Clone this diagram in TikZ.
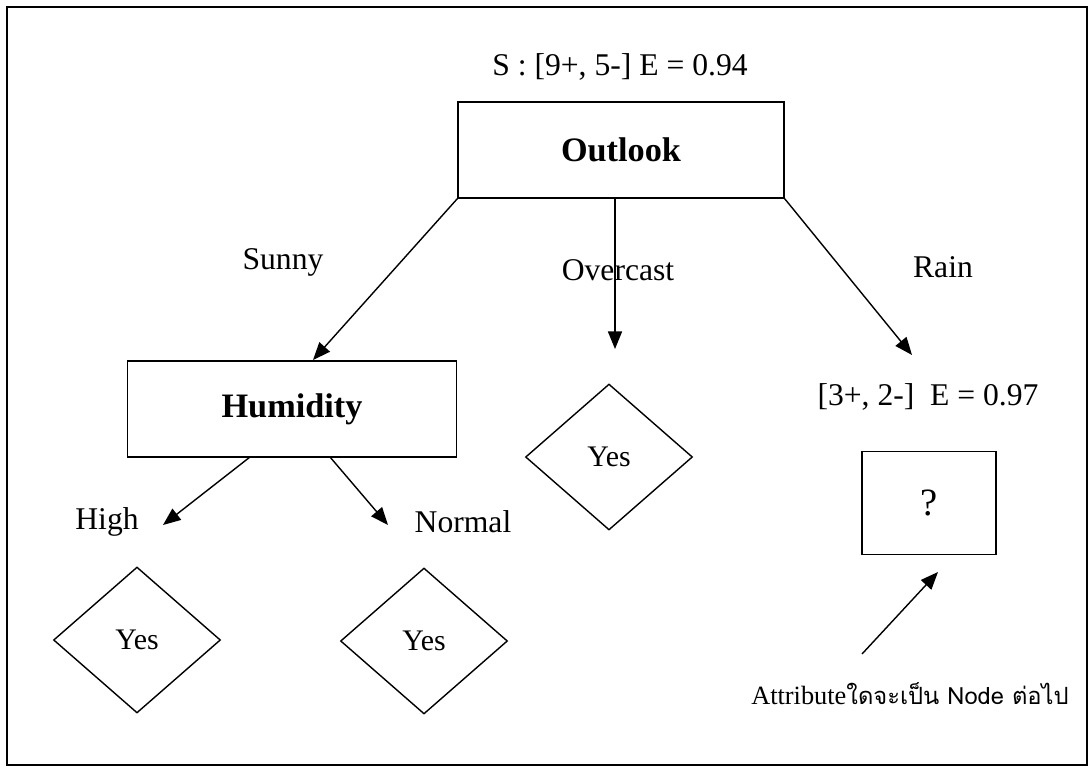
\documentclass[tikz,border=0pt]{standalone}
\usepackage{fontspec}
\setmainfont{Liberation Serif}
\newfontfamily\thaifont[Script=Thai]{Loma}
\usetikzlibrary{arrows.meta,shapes.geometric}
\tikzset{
  attrbox/.style={draw, line width=0.8pt, inner sep=0pt, font=\fontsize{19.5}{23}\selectfont\bfseries},
  leafbox/.style={draw, diamond, line width=0.8pt, inner sep=0pt, minimum width=3.34cm, minimum height=2.92cm, font=\fontsize{17}{20}\selectfont},
  lbl/.style={inner sep=1pt, font=\fontsize{18}{21}\selectfont},
  branch/.style={line width=0.8pt, -{Triangle[length=10pt,width=8pt]}}
}
\begin{document}
\begin{tikzpicture}[x=0.02cm, y=-0.02cm]
			%%%%% START %%%%%
			\useasboundingbox (0, 0) rectangle (1091, 767);
			\draw[line width=1.4pt] (7, 7) rectangle (1087, 765);
			
			% root
			\node[lbl] (rootstat) at (620, 67) {S : [9+, 5-] E = 0.94};
			\node[attrbox, minimum width=6.52cm, minimum height=1.92cm] (outlook) at (621, 150) {Outlook};
			
			% branches of the root
			\node[lbl] (sunny) at (283, 262) {Sunny};
			\node[lbl] (overcast) at (618, 270) {Overcast};
			\node[lbl] (rain) at (943, 267) {Rain};
			
			\node[attrbox, minimum width=6.58cm, minimum height=1.92cm] (humidity) at (292, 409) {Humidity};
			\node[leafbox] (yesmid) at (609, 457) {Yes};
			\node[lbl] (rainstat) at (928, 397) {[3+, 2-]\ \ E = 0.97};
			\node[draw, line width=0.8pt, minimum width=2.68cm, minimum height=2.06cm, font=\fontsize{22}{26}\selectfont] (unknown) at (929, 503) {?};
			
			\coordinate (tipsunny) at (313, 360);
			\coordinate (tipover) at (615, 349);
			\coordinate (tiprain) at (912, 355);
			\draw[branch] (outlook.south west) -- (tipsunny);
			\draw[branch] (outlook.south -| tipover) -- (tipover);
			\draw[branch] (outlook.south east) -- (tiprain);
			
			% branches of humidity
			\node[lbl] (high) at (107, 522) {High};
			\node[lbl] (normal) at (463, 522) {Normal};
			\coordinate (humleft) at (250, 457);
			\coordinate (humright) at (330, 457);
			\coordinate (tiphigh) at (163, 525);
			\coordinate (tipnormal) at (388, 525);
			\draw[branch] (humleft) -- (tiphigh);
			\draw[branch] (humright) -- (tipnormal);
			
			\node[leafbox] (yeshigh) at (137, 640) {Yes};
			\node[leafbox] (yesnormal) at (424, 641) {Yes};
			
			% note on the open node
			\node[inner sep=1pt, font=\fontsize{15}{18}\selectfont] (note) at (910, 694) {Attribute{\thaifont\fontsize{13.5}{16}\selectfont ใดจะเป็น Node ต่อไป}};
			\coordinate (notefoot) at (862, 654);
			\coordinate (tipnote) at (938, 572);
			\draw[branch] (notefoot) -- (tipnote);
			%%%%% END %%%%%
\end{tikzpicture}
\end{document}
